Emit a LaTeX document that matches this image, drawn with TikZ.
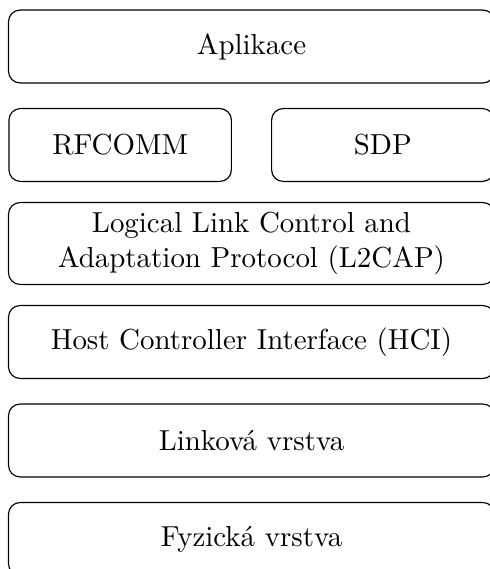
\documentclass[tikz,border=0pt]{standalone}
\usepackage{fontspec}
\usepackage{tikz}
\usetikzlibrary{positioning}

\begin{document}
\begin{tikzpicture}[
  x=0.3457pt, y=0.3457pt,
  node distance=34.05pt and 45pt, on grid,
  every node/.style={font=\normalsize, align=center},
  layer/.style={draw, rounded corners, thin, minimum width=168pt, minimum height=25.2pt},
  halflayer/.style={layer, minimum width=76.9pt}
]
  \useasboundingbox (-251.5,46.5) rectangle (237.5,-522.5);
  % Nodes
  \node (app) [layer] at (0,0) {Aplikace};
  \node (rfcomm) [halflayer, below left=34.05pt and 45.4pt of app] {RFCOMM};
  \node (sdp) [halflayer, below right=34.05pt and 45.4pt of app] {SDP};
  \node (l2cap) [layer, minimum height=28.3pt, below=68.1pt of app] {Logical Link Control and\\Adaptation Protocol (L2CAP)};
  \node (hci) [layer, below=of l2cap] {Host Controller Interface (HCI)};
  \node (link) [layer, below=of hci] {Linková vrstva};
  \node (phy) [layer, below=of link] {Fyzická vrstva};
\end{tikzpicture}
\end{document}
